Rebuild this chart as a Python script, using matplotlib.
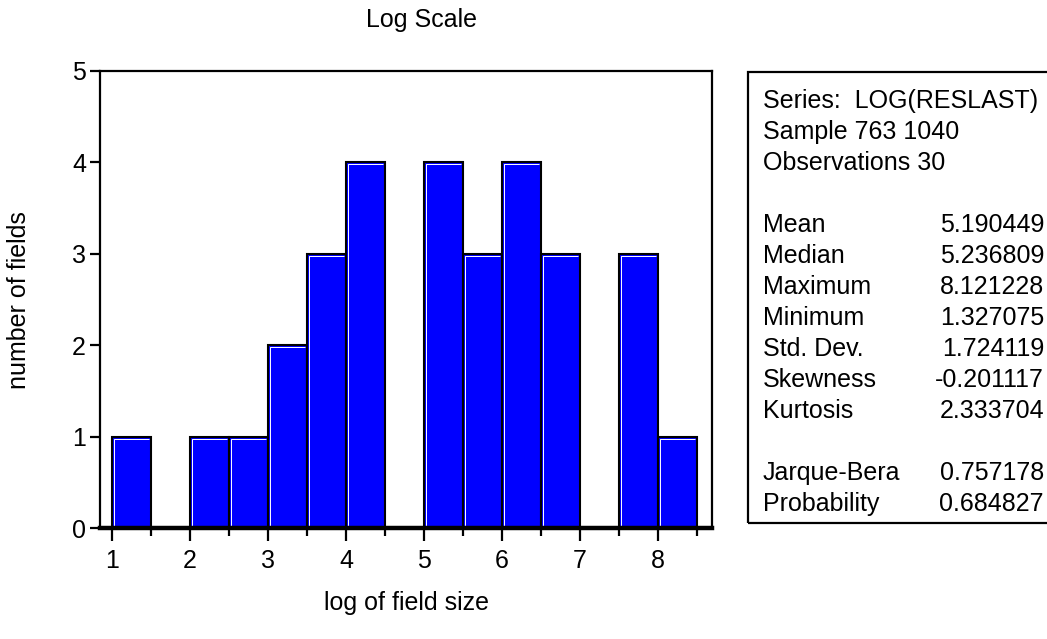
import matplotlib
matplotlib.use("Agg")
import matplotlib.pyplot as plt
import matplotlib.ticker as ticker
import matplotlib.transforms as mtransforms
from matplotlib.patches import Rectangle
import numpy as np

# Histogram of log field size, 0.5-wide bins
BIN_LEFT = [1.0, 1.5, 2.0, 2.5, 3.0, 3.5, 4.0, 4.5, 5.0, 5.5, 6.0, 6.5, 7.0, 7.5, 8.0]
COUNTS = [1, 0, 1, 1, 2, 3, 4, 0, 4, 3, 4, 3, 0, 3, 1]
BIN_WIDTH = 0.5

# Descriptive statistics panel
HEADER_LINES = ["Series:  LOG(RESLAST)", "Sample 763 1040", "Observations 30"]
STAT_NAMES = ["Mean", "Median", "Maximum", "Minimum", "Std. Dev.", "Skewness", "Kurtosis"]
STAT_VALUES = ["5.190449", "5.236809", "8.121228", "1.327075", "1.724119", "-0.201117", "2.333704"]
TEST_NAMES = ["Jarque-Bera", "Probability"]
TEST_VALUES = ["0.757178", "0.684827"]

W, H = 1047, 639
BAR_COLOR = "#0000FF"
FONT = 18

plt.rcParams.update({
    "font.family": ["Liberation Sans", "DejaVu Sans"],
    "font.size": FONT,
})


def px(x, y):
    """Pixel position (from top-left) to figure fraction."""
    return x / W, 1 - y / H


fig = plt.figure(figsize=(W / 100, H / 100), dpi=100)
ax = fig.add_axes([100 / W, 1 - 528 / H, 612 / W, 457 / H])

# bars: black outline with a white highlight along left and top edges
edges = np.array(BIN_LEFT)
heights = np.array(COUNTS)
ax.bar(edges, heights, width=BIN_WIDTH, align="edge", color=BAR_COLOR,
       edgecolor="black", linewidth=1.5, zorder=2)
hl = mtransforms.offset_copy(ax.transData, fig=fig, x=2.0, y=-2.0, units="dots")
for x0, h in zip(edges, heights):
    if h == 0:
        continue
    ax.plot([x0, x0, x0 + BIN_WIDTH - 0.05], [0.03, h, h], color="white",
            linewidth=0.7, transform=hl, zorder=3, solid_capstyle="butt")

ax.set_xlim(0.846, 8.692)
ax.set_ylim(0, 5)

ax.xaxis.set_major_locator(ticker.MultipleLocator(1))
ax.xaxis.set_minor_locator(ticker.MultipleLocator(0.5))
ax.yaxis.set_major_locator(ticker.MultipleLocator(1))
ax.tick_params(axis="x", which="major", direction="out", length=9, width=1.6, pad=6)
ax.tick_params(axis="x", which="minor", direction="out", length=6, width=1.6)
ax.tick_params(axis="y", which="major", direction="out", length=7, width=1.6, pad=3)
ax.tick_params(top=False, right=False)

for side in ["left", "top", "right"]:
    ax.spines[side].set_linewidth(1.6)
ax.spines["bottom"].set_linewidth(3.2)
ax.spines["bottom"].set_zorder(4)

fig.text(*px(422, 20), "Log Scale", ha="center", va="center", fontsize=FONT)
fig.text(*px(406, 603), "log of field size", ha="center", va="center", fontsize=FONT)
fig.text(*px(19, 300), "number of fields", ha="center", va="center",
         rotation=90, fontsize=FONT)

# statistics box, clipped at the right edge of the figure
x0f, y1f = px(748, 72)
_, y0f = px(748, 523)
fig.patches.append(Rectangle((x0f, y0f), 1.0, y1f - y0f, transform=fig.transFigure,
                             fill=False, edgecolor="black", linewidth=1.6))

rows = [(t, "") for t in HEADER_LINES] + [("", "")] \
    + list(zip(STAT_NAMES, STAT_VALUES)) + [("", "")] \
    + list(zip(TEST_NAMES, TEST_VALUES))
y = 101
for name, val in rows:
    if name:
        fig.text(*px(763, y), name, ha="left", va="center", fontsize=FONT)
    if val:
        fig.text(*px(1044, y), val, ha="right", va="center", fontsize=FONT)
    y += 31

fig.savefig("out.png", dpi=100)
